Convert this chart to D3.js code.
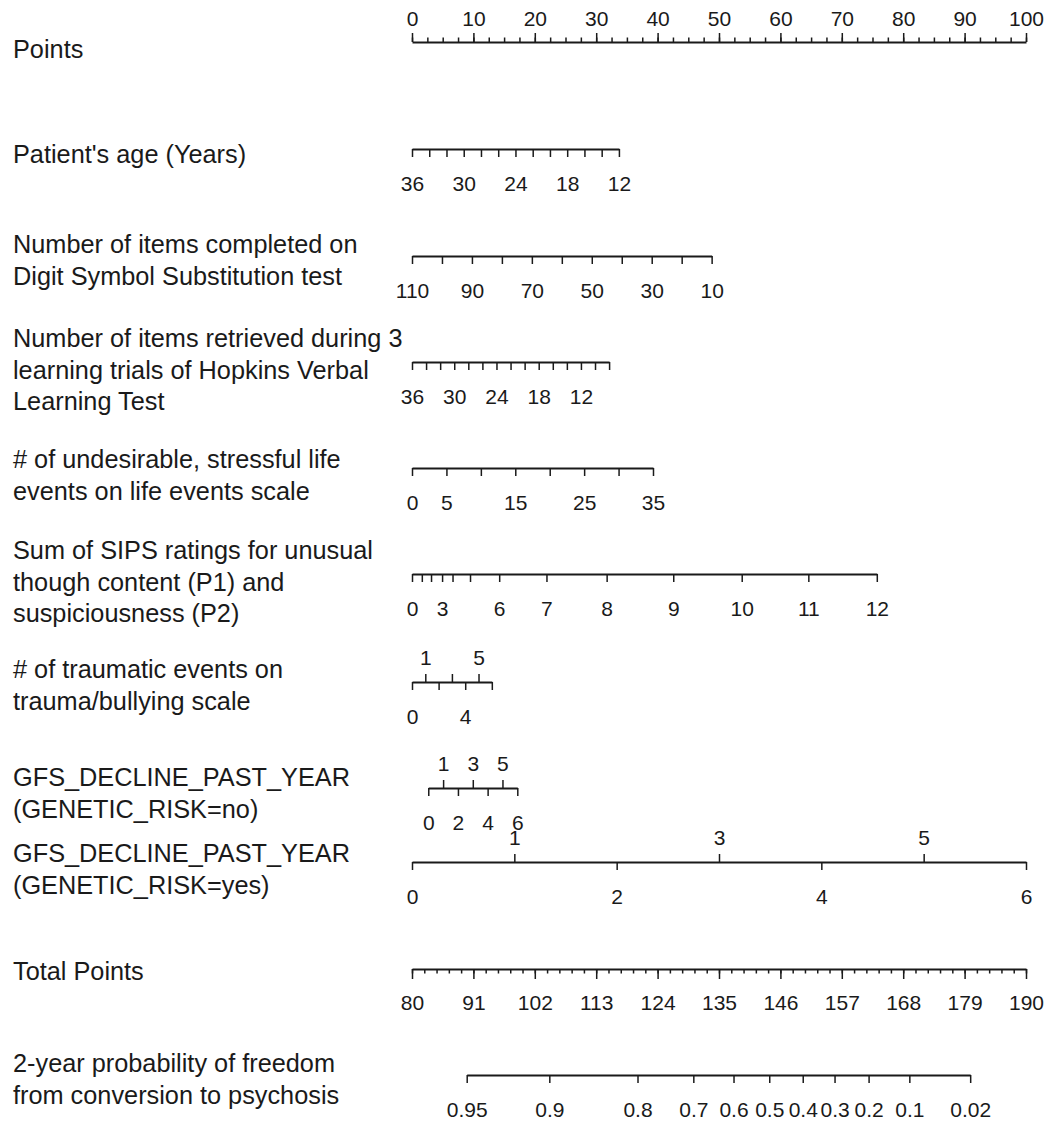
<!DOCTYPE html>
<html>
<head>
<meta charset="utf-8">
<script src="https://cdn.jsdelivr.net/npm/d3@7"></script>
<style>
  body { margin: 0; background: #fff; }
  text { font-family: "Liberation Sans", Arial, sans-serif; fill: #1a1a1a; }
</style>
</head>
<body>
<div id="nomogram"></div>
<script>
// ---- data ----
const pointLabels = [0, 10, 20, 30, 40, 50, 60, 70, 80, 90, 100];

const ageValues = [36, 34, 32, 30, 28, 26, 24, 22, 20, 18, 16, 14, 12];
const ageLabels = [36, 30, 24, 18, 12];
const ageEnds = [36, 12];
const agePoints = [0, 33.7];

const dsstValues = [110, 100, 90, 80, 70, 60, 50, 40, 30, 20, 10];
const dsstLabels = [110, 90, 70, 50, 30, 10];
const dsstEnds = [110, 10];
const dsstPoints = [0, 48.8];

const hvltValues = [36, 34, 32, 30, 28, 26, 24, 22, 20, 18, 16, 14, 12, 10, 8];
const hvltLabels = [36, 30, 24, 18, 12];
const hvltEnds = [36, 8];
const hvltPoints = [0, 32.1];

const lifeValues = [0, 5, 10, 15, 20, 25, 30, 35];
const lifeLabels = [0, 5, 15, 25, 35];
const lifeEnds = [0, 35];
const lifePoints = [0, 39.25];

const sipsValues = [0, 1, 2, 3, 4, 5, 6, 7, 8, 9, 10, 11, 12];
const sipsLabels = [0, 3, 6, 7, 8, 9, 10, 11, 12];
const sipsPoints = [0, 1.6, 3.1, 4.9, 6.6, 9.45, 14.2, 21.9, 31.7, 42.55, 53.7, 64.55, 75.7];

const traumaUpper = [1, 3, 5];
const traumaUpperLabels = [1, 5];
const traumaLower = [0, 2, 4, 6];
const traumaLowerLabels = [0, 4];
const traumaEnds = [0, 6];
const traumaPoints = [0, 13.0];

const gfsUpper = [1, 3, 5];
const gfsLower = [0, 2, 4, 6];
const gfsEnds = [0, 6];
const gfsNoPoints = [2.65, 17.15];
const gfsYesPoints = [0, 100];

const totalLabels = [80, 91, 102, 113, 124, 135, 146, 157, 168, 179, 190];
const totalEnds = [80, 190];

const probTicks = [0.95, 0.9, 0.8, 0.7, 0.6, 0.5, 0.4, 0.3, 0.2, 0.1, 0.02];
const probTotals = [89.8, 104.6, 120.4, 130.4, 137.6, 144.0, 150.0, 155.7, 161.8, 169.1, 180.0];

// ---- layout ----
const width = 1046, height = 1121;
const left = 412, right = 1026;
const lineGap = 31.6;

const svg = d3.select("#nomogram")
  .append("svg")
  .attr("width", width)
  .attr("height", height);

const x = d3.scaleLinear().domain([0, 100]).range([left, right]);
const xTotal = d3.scaleLinear().domain(totalEnds).range([left, right]);

// left hand labels
function label(lines, baseline) {
  const t = svg.append("text")
    .attr("x", 13)
    .attr("y", baseline)
    .attr("font-size", 25.3);
  lines.forEach((s, i) => {
    t.append("tspan").attr("x", 13).attr("y", baseline + i * lineGap).text(s);
  });
}

function styleAxis(g) {
  g.attr("font-size", 21)
    .attr("font-family", "Liberation Sans, Arial, sans-serif")
    .attr("color", "#1a1a1a");
  g.select(".domain").attr("stroke-width", 2);
  g.selectAll(".tick line").attr("stroke-width", 1.5);
}

function fmt(labels) {
  return v => labels.includes(v) ? String(v) : "";
}

// a variable axis: ticks below the line, optional ticks above
function variable(y, scale, below, belowLabels, above, aboveLabels) {
  const g = svg.append("g").attr("transform", `translate(0,${y})`);
  g.append("g")
    .call(d3.axisBottom(scale).tickValues(below).tickFormat(fmt(belowLabels))
      .tickSize(8).tickSizeOuter(0).tickPadding(19))
    .call(styleAxis);
  if (above) {
    g.append("g")
      .call(d3.axisTop(scale).tickValues(above).tickFormat(fmt(aboveLabels))
        .tickSize(8).tickSizeOuter(0).tickPadding(9))
      .call(styleAxis)
      .call(a => a.select(".domain").remove());
  }
}

function linear(ends, pts) {
  return d3.scaleLinear().domain(ends).range(pts.map(x));
}

// Points
label(["Points"], 58);
const gp = svg.append("g").attr("transform", "translate(0,42)");
gp.append("g")
  .call(d3.axisTop(x).tickValues(d3.range(0, 100.01, 2.5)).tickFormat("")
    .tickSize(4.5).tickSizeOuter(0))
  .call(styleAxis);
gp.append("g")
  .call(d3.axisTop(x).tickValues(pointLabels).tickFormat(d3.format("d"))
    .tickSize(9).tickSizeOuter(0).tickPadding(7))
  .call(styleAxis)
  .call(a => a.select(".domain").remove());

// Age
label(["Patient's age (Years)"], 163);
variable(149, linear(ageEnds, agePoints), ageValues, ageLabels);

// DSST
label(["Number of items completed on", "Digit Symbol Substitution test"], 253);
variable(256, linear(dsstEnds, dsstPoints), dsstValues, dsstLabels);

// HVLT
label(["Number of items retrieved during 3", "learning trials of Hopkins Verbal", "Learning Test"], 347);
variable(362, linear(hvltEnds, hvltPoints), hvltValues, hvltLabels);

// Life events
label(["# of undesirable, stressful life", "events on life events scale"], 468);
variable(468, linear(lifeEnds, lifePoints), lifeValues, lifeLabels);

// SIPS
label(["Sum of SIPS ratings for unusual", "though content (P1) and", "suspiciousness (P2)"], 559);
variable(574, d3.scaleLinear().domain(sipsValues).range(sipsPoints.map(x)), sipsValues, sipsLabels);

// Trauma
label(["# of traumatic events on", "trauma/bullying scale"], 678);
variable(682, linear(traumaEnds, traumaPoints), traumaLower, traumaLowerLabels, traumaUpper, traumaUpperLabels);

// GFS, no genetic risk
label(["GFS_DECLINE_PAST_YEAR", "(GENETIC_RISK=no)"], 786);
variable(788, linear(gfsEnds, gfsNoPoints), gfsLower, gfsLower, gfsUpper, gfsUpper);

// GFS, genetic risk
label(["GFS_DECLINE_PAST_YEAR", "(GENETIC_RISK=yes)"], 862);
variable(862, linear(gfsEnds, gfsYesPoints), gfsLower, gfsLower, gfsUpper, gfsUpper);

// Total points
label(["Total Points"], 980);
const gt = svg.append("g").attr("transform", "translate(0,969)");
gt.append("g")
  .call(d3.axisBottom(xTotal).tickValues(d3.range(80, 190.01, 2.2)).tickFormat("")
    .tickSize(4.5).tickSizeOuter(0))
  .call(styleAxis);
gt.append("g")
  .call(d3.axisBottom(xTotal).tickValues(totalLabels).tickFormat(d3.format("d"))
    .tickSize(10).tickSizeOuter(0).tickPadding(16))
  .call(styleAxis)
  .call(a => a.select(".domain").remove());

// Probability
label(["2-year probability of freedom", "from conversion to psychosis"], 1072);
const prob = d3.scaleLinear().domain(probTicks).range(probTotals.map(xTotal));
variable(1075, prob, probTicks, probTicks);
</script>
</body>
</html>
